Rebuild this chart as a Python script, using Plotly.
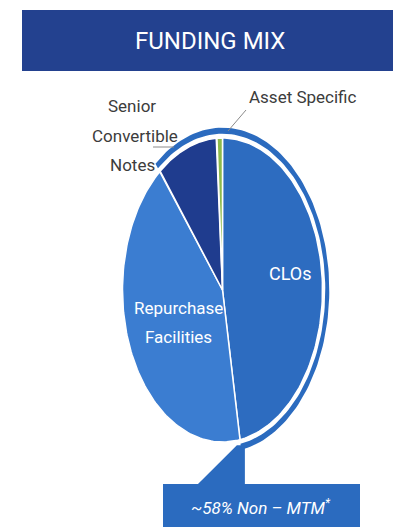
import numpy as np
import plotly.graph_objects as go

# Funding mix data (share of total funding, %), listed clockwise from 12 o'clock
categories = ["CLOs", "Repurchase Facilities", "Senior Convertible Notes", "Asset Specific"]
shares = [47.2, 42.0, 9.8, 1.0]
non_mtm = ["CLOs", "Senior Convertible Notes", "Asset Specific"]
title_text = "FUNDING MIX"
callout_text = "~58% Non \u2013 MTM<sup>*</sup>"

slice_colors = {
    "CLOs": "#2D6CC0",
    "Repurchase Facilities": "#3B7DD1",
    "Senior Convertible Notes": "#1F3C8E",
    "Asset Specific": "#8DBA4B",
}
banner_color = "#23418F"
band_color = "#2B6BBF"
label_color = "#3C3C3C"
FONT = "Roboto, Arial, sans-serif"

# Canvas geometry (pixels) – the pie is an ellipse centred at (CX, CY)
W, H = 393, 527
CX, CY, RX, RY = 222.5, 290.0, 100.0, 152.0


def px(x):
    return (x - CX) / RX


def py(y):
    return (CY - y) / RY


def arc(a0, a1, r, n=120):
    t = np.radians(np.linspace(a0, a1, n))
    return r * np.sin(t), r * np.cos(t)


fig = go.Figure()

# Pie slices, angle measured clockwise from the top
total = float(sum(shares))
start = 0.0
angles = {}
for cat, val in zip(categories, shares):
    span = 360.0 * val / total
    angles[cat] = (start, start + span)
    ax, ay = arc(start, start + span, 1.0)
    fig.add_trace(go.Scatter(
        x=np.concatenate([[0], ax, [0]]),
        y=np.concatenate([[0], ay, [0]]),
        fill="toself", fillcolor=slice_colors[cat],
        line=dict(color="white", width=1.5),
        mode="lines", name=cat, hoverinfo="name", showlegend=False,
    ))
    start += span

# Outer band spanning the non mark-to-market slices
band_start = angles["Senior Convertible Notes"][0] - 360.0
band_end = angles["CLOs"][1]
ox, oy = arc(band_start, band_end, 1.068)
ix, iy = arc(band_end, band_start, 1.028)
fig.add_trace(go.Scatter(
    x=np.concatenate([ox, ix]), y=np.concatenate([oy, iy]),
    fill="toself", fillcolor=band_color, line=dict(width=0),
    mode="lines", hoverinfo="skip", showlegend=False,
))

# Callout connector and box below the pie
end_x = CX + RX * 1.05 * np.sin(np.radians(band_end))
end_y = CY - RY * 1.05 * np.cos(np.radians(band_end))
callout_path = (
    f"M {px(end_x - 4)},{py(end_y - 2)} L {px(198)},{py(484)} L {px(163)},{py(484)} "
    f"L {px(163)},{py(530)} L {px(360)},{py(530)} L {px(360)},{py(484)} "
    f"L {px(end_x + 4)},{py(484)} L {px(end_x + 4)},{py(end_y - 2)} Z"
)

shapes = [
    dict(type="rect", xref="x", yref="y", x0=px(22), x1=px(400), y0=py(71), y1=py(10),
         fillcolor=banner_color, line=dict(width=0), layer="below"),
    dict(type="path", xref="x", yref="y", path=callout_path,
         fillcolor=band_color, line=dict(width=0), layer="below"),
    # leader lines
    dict(type="line", xref="x", yref="y", x0=px(246), y0=py(110), x1=px(228), y1=py(131),
         line=dict(color="#8A8A8A", width=1)),
    dict(type="line", xref="x", yref="y", x0=px(153), y0=py(147), x1=px(174), y1=py(147),
         line=dict(color="#8A8A8A", width=1)),
]


def label(x, y, text, size, color, italic=False):
    return dict(x=px(x), y=py(y), text=f"<i>{text}</i>" if italic else text,
                showarrow=False, align="center",
                font=dict(family=FONT, size=size, color=color))


annotations = [
    label(210, 41, title_text, 24, "white"),
    label(132, 106, "Senior", 17, label_color),
    label(135, 136, "Convertible", 17, label_color),
    label(132, 165, "Notes", 17, label_color),
    label(303, 97, "Asset Specific", 17, label_color),
    label(290, 273, "CLOs", 18, "white"),
    label(178, 308, "Repurchase", 17, "white"),
    label(178, 337, "Facilities", 17, "white"),
    label(261, 507, callout_text, 17, "white", italic=True),
]

fig.update_layout(
    width=W, height=H,
    margin=dict(l=0, r=0, t=0, b=0),
    paper_bgcolor="white", plot_bgcolor="white",
    xaxis=dict(range=[px(0), px(W)], visible=False, fixedrange=True),
    yaxis=dict(range=[py(H), py(0)], visible=False, fixedrange=True),
    shapes=shapes, annotations=annotations,
    showlegend=False,
)

fig.write_html("out.html")
